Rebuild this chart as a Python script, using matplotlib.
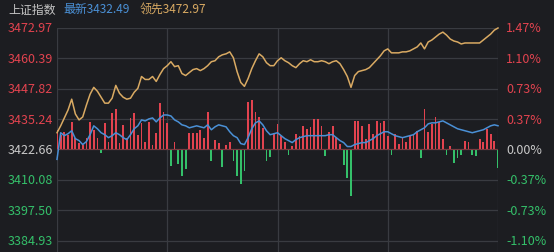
import numpy as np
import matplotlib
matplotlib.use("Agg")
import matplotlib.pyplot as plt

plt.rcParams['font.family'] = ['Noto Sans CJK SC', 'DejaVu Sans']

# ---------------- data ----------------
prev_close = 3422.66
price_ticks = [3472.97, 3460.39, 3447.82, 3435.24, 3422.66, 3410.08, 3397.50, 3384.93]
pct_labels = ["1.47%", "1.10%", "0.73%", "0.37%", "0.00%", "-0.37%", "-0.73%", "-1.10%"]

leading = [
    3429.60, 3432.46, 3435.73, 3439.00, 3443.49, 3437.36, 3434.91, 3436.14, 3441.04, 3445.53,
    3448.39, 3446.76, 3444.31, 3441.85, 3441.85, 3443.90, 3449.21, 3445.94, 3444.31, 3443.49,
    3443.90, 3446.35, 3447.98, 3452.88, 3451.66, 3451.66, 3452.88, 3450.84, 3453.70, 3456.15,
    3457.37, 3459.01, 3456.97, 3457.37, 3454.11, 3453.29, 3454.52, 3455.74, 3456.15, 3455.33,
    3456.15, 3457.37, 3459.01, 3459.42, 3461.05, 3461.87, 3462.27, 3463.09, 3460.64, 3454.92,
    3450.43, 3448.80, 3452.06, 3456.15, 3459.42, 3462.27, 3461.05, 3458.60, 3457.37, 3457.37,
    3459.42, 3460.64, 3459.42, 3458.60, 3457.37, 3456.56, 3458.19, 3459.42, 3459.01, 3459.82,
    3459.01, 3459.01, 3459.42, 3459.01, 3458.19, 3459.01, 3459.42, 3458.19, 3455.74, 3452.88,
    3448.39, 3453.29, 3454.92, 3455.33, 3455.74, 3456.56, 3458.19, 3459.82, 3461.46, 3463.50,
    3464.32, 3462.68, 3462.68, 3462.68, 3463.09, 3463.09, 3463.50, 3464.32, 3465.13, 3466.77,
    3464.32, 3467.18, 3467.99, 3469.22, 3470.44, 3471.26, 3470.03, 3468.40, 3467.58, 3467.18,
    3466.36, 3466.77, 3466.77, 3466.77, 3466.77, 3466.77, 3467.99, 3469.22, 3470.44, 3472.08,
    3472.97,
]

index_line = [
    3418.58, 3429.60, 3428.38, 3429.19, 3430.42, 3427.15, 3426.34, 3424.70, 3425.93, 3428.79,
    3432.46, 3431.24, 3429.60, 3428.79, 3427.56, 3428.38, 3429.60, 3428.79, 3427.56, 3426.74,
    3428.79, 3431.24, 3432.46, 3434.91, 3434.50, 3435.32, 3435.73, 3434.10, 3435.73, 3436.95,
    3436.95, 3436.55, 3434.91, 3434.10, 3432.87, 3432.46, 3431.64, 3432.05, 3432.46, 3432.05,
    3431.64, 3432.87, 3430.83, 3432.05, 3432.87, 3432.46, 3432.05, 3430.01, 3428.38, 3427.56,
    3425.11, 3424.70, 3427.56, 3431.24, 3433.69, 3434.50, 3432.87, 3430.42, 3428.79, 3429.19,
    3429.60, 3428.38, 3427.15, 3426.34, 3425.52, 3426.74, 3427.56, 3427.97, 3428.38, 3428.38,
    3428.38, 3428.38, 3428.38, 3428.38, 3428.79, 3428.79, 3427.56, 3426.34, 3425.52, 3423.89,
    3423.89, 3424.70, 3425.11, 3425.52, 3425.52, 3426.34, 3427.15, 3428.38, 3429.19, 3430.01,
    3430.01, 3429.19, 3428.38, 3427.97, 3427.56, 3427.97, 3428.38, 3428.79, 3430.01, 3430.83,
    3431.64, 3433.28, 3433.69, 3433.69, 3434.10, 3434.50, 3433.69, 3432.87, 3432.05, 3431.24,
    3430.83, 3430.42, 3430.01, 3429.60, 3430.01, 3430.42, 3430.83, 3431.64, 3432.46, 3432.87,
    3432.49,
]

strength = [
    20, 15, 18, 15, 28, 12, 7, 5, 12, 28,
    20, 12, -4, 27, 8, 37, 41, 7, 25, 12,
    32, 37, 15, 27, 8, 28, 5, 17, 47, 38,
    27, -17, 8, -15, -27, -20, 17, 17, 17, 20,
    12, 38, -12, 10, 7, -18, 5, 8, -12, -27,
    -35, -22, 48, 50, 38, 33, 22, -12, -8, 17,
    26, 14, 8, -6, 4, 16, 14, 24, 21, 23,
    31, 31, 24, -7, 18, 24, 13, 6, -16, -29,
    -47, 29, 29, 24, 11, 26, 16, 29, 27, 29,
    14, -6, 16, 6, 13, 8, 14, 16, 19, -9,
    41, 18, 26, 33, 28, 11, -6, 4, -14, -9,
    -6, 9, 8, -6, -7, 11, 8, 21, 16, 9,
    -19,
]

# ---------------- style ----------------
BG = "#1c1d21"
GRID = "#393b41"
RED = "#e2434f"
GREEN = "#34c06a"
NEUTRAL = "#c9c9c9"
ORANGE = "#d9aa63"
BLUE = "#4a90d6"

fig = plt.figure(figsize=(5.54, 2.53), dpi=100, facecolor=BG)
ax = fig.add_axes([57 / 554, 0.0, 441 / 554, 224 / 253])
ax.set_facecolor(BG)

x = np.arange(len(leading))
s = np.array(strength, dtype=float)
scale = 0.41
colors = [RED if v >= 0 else GREEN for v in s]
ax.bar(x, s * scale, bottom=prev_close, width=0.48, color=colors, linewidth=0, zorder=2)
ax.axhline(prev_close, color="#7a3b40", lw=0.8, zorder=2.5)

ax.plot(x, leading, color=ORANGE, lw=1.1, zorder=3, clip_on=False)
ax.plot(x, index_line, color=BLUE, lw=1.1, zorder=3, clip_on=False)

top = price_ticks[0]
step = (price_ticks[0] - price_ticks[-1]) / 7
ax.set_ylim(price_ticks[-1] - step * 0.375, top)
ax.set_xlim(0, len(leading) - 1)

ax.set_yticks(price_ticks)
ax.set_xticks([0, 30, 60, 90, 120])
ax.grid(True, color=GRID, lw=0.9)
ax.set_axisbelow(True)
for sp in ax.spines.values():
    sp.set_visible(False)
ax.tick_params(length=0, labelbottom=False, labelleft=False)

# left labels
for v in price_ticks:
    c = RED if v > prev_close + 0.01 else (GREEN if v < prev_close - 0.01 else NEUTRAL)
    ax.text(-0.009, v, f"{v:.2f}", transform=ax.get_yaxis_transform(), ha="right",
            va="center", color=c, fontsize=9.0, clip_on=False)
# right labels
for v, lab in zip(price_ticks, pct_labels):
    c = RED if v > prev_close + 0.01 else (GREEN if v < prev_close - 0.01 else NEUTRAL)
    ax.text(1.018, v, lab, transform=ax.get_yaxis_transform(), ha="left",
            va="center", color=c, fontsize=9.0, clip_on=False)

# header
fig.text(8 / 554, 1 - 10 / 253, "上证指数", color="#c4c4c4", fontsize=8.6, va="center", ha="left")
fig.text(63 / 554, 1 - 10 / 253, f"最新{index_line[-1]:.2f}", color=BLUE, fontsize=8.6, va="center", ha="left")
fig.text(140 / 554, 1 - 10 / 253, f"领先{leading[-1]:.2f}", color=ORANGE, fontsize=8.6, va="center", ha="left")

fig.savefig("out.png", dpi=100, facecolor=BG)
